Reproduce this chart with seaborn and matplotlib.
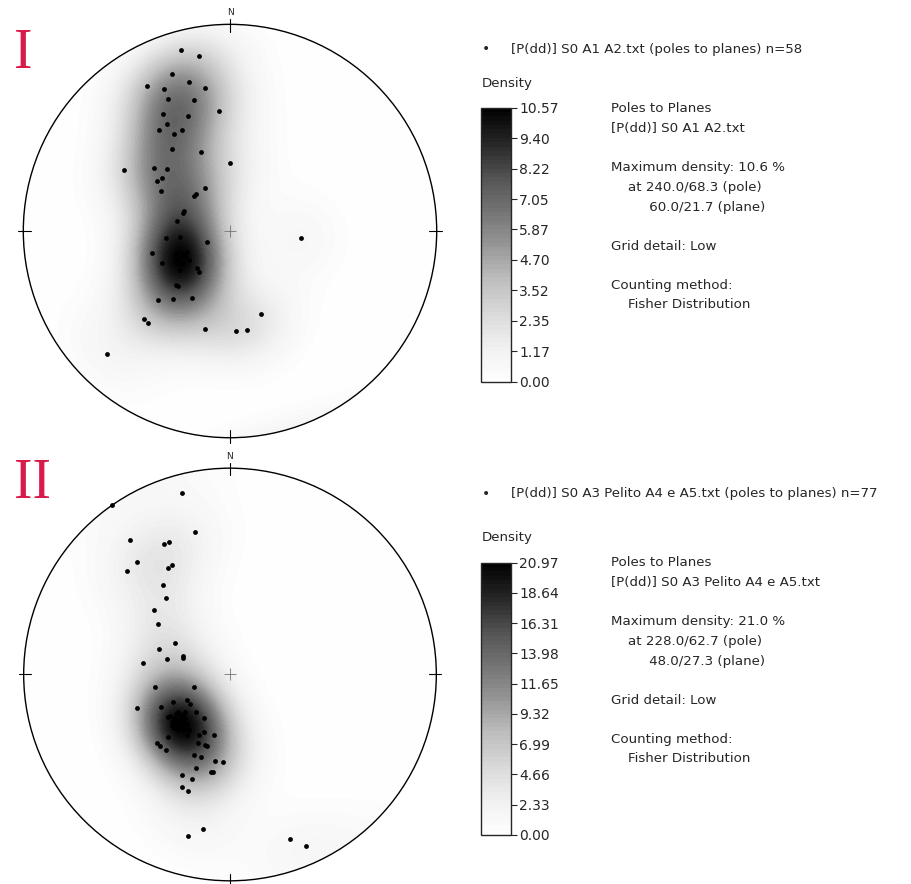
import numpy as np
import pandas as pd
import seaborn as sns
import matplotlib
matplotlib.use("Agg")
import matplotlib.pyplot as plt
from matplotlib.patches import Circle

set1_east = [-0.237, -0.149, -0.281, -0.403, -0.197, -0.122, -0.319, -0.300, -0.173, -0.052,
             -0.326, -0.205, -0.306, -0.342, -0.271, -0.234, -0.281, -0.140, 0.001, -0.514,
             -0.369, -0.305, -0.355, -0.330, -0.334, -0.122, -0.164, -0.174, -0.223, -0.227,
             -0.256, -0.111, -0.311, -0.242, -0.376, -0.329, -0.160, -0.150, -0.253, -0.261,
             -0.347, -0.274, -0.185, -0.418, -0.398, -0.122, 0.149, 0.028, 0.082, -0.595,
             0.345, -0.220, -0.250, -0.230, -0.210, -0.260, -0.240, -0.200]
set1_north = [0.876, 0.847, 0.761, 0.700, 0.721, 0.693, 0.686, 0.640, 0.634, 0.581,
              0.566, 0.556, 0.518, 0.489, 0.469, 0.489, 0.395, 0.384, 0.328, 0.295,
              0.303, 0.298, 0.243, 0.255, 0.194, 0.207, 0.178, 0.169, 0.097, 0.087,
              0.048, -0.053, -0.035, -0.030, -0.105, -0.156, -0.179, -0.198, -0.265, -0.261,
              -0.334, -0.329, -0.323, -0.426, -0.445, -0.473, -0.403, -0.482, -0.478, -0.595,
              -0.034, -0.120, -0.140, -0.160, -0.100, -0.110, -0.190, -0.140]

set2_east = [-0.234, -0.570, -0.170, -0.485, -0.320, -0.297, -0.451, -0.498, -0.299, -0.280,
             -0.323, -0.310, -0.368, -0.350, -0.265, -0.344, -0.307, -0.229, -0.226, -0.420,
             -0.362, -0.173, -0.452, -0.278, -0.333, -0.210, -0.194, -0.165, -0.125, -0.299,
             -0.125, -0.078, -0.149, -0.210, -0.299, -0.355, -0.339, -0.312, -0.154, -0.113,
             -0.121, -0.175, -0.142, -0.073, -0.035, -0.165, -0.094, -0.081, -0.231, -0.186,
             -0.234, -0.202, -0.132, -0.205, 0.292, 0.370,
             -0.250, -0.240, -0.260, -0.230, -0.270, -0.250, -0.220, -0.280, -0.240, -0.260,
             -0.230, -0.210, -0.270, -0.250, -0.220, -0.290, -0.240, -0.260, -0.200, -0.280,
             -0.230]
set2_north = [0.881, 0.820, 0.689, 0.652, 0.631, 0.642, 0.544, 0.503, 0.518, 0.529,
              0.434, 0.372, 0.313, 0.246, 0.154, 0.122, 0.075, 0.090, 0.081, 0.054,
              -0.062, -0.062, -0.162, -0.132, -0.158, -0.124, -0.143, -0.180, -0.212, -0.205,
              -0.277, -0.293, -0.293, -0.293, -0.304, -0.333, -0.345, -0.366, -0.331, -0.347,
              -0.342, -0.390, -0.398, -0.418, -0.423, -0.455, -0.474, -0.474, -0.487, -0.508,
              -0.544, -0.563, -0.749, -0.781, -0.797, -0.831,
              -0.220, -0.200, -0.240, -0.230, -0.210, -0.180, -0.210, -0.230, -0.250, -0.190,
              -0.260, -0.240, -0.260, -0.270, -0.180, -0.200, -0.220, -0.220, -0.270, -0.250,
              -0.190]

file_names = ["[P(dd)] S0 A1 A2.txt", "[P(dd)] S0 A3 Pelito A4 e A5.txt"]
panel_labels = ["I", "II"]
density_max = [10.57, 20.97]
max_summary = ["10.6", "21.0"]
max_pole = ["240.0/68.3", "228.0/62.7"]
max_plane = ["60.0/21.7", "48.0/27.3"]

sns.set_style("white")
plt.rcParams["font.family"] = ["DejaVu Sans"]

KAPPA = 25.0


def to_vectors(east, north):
    east = np.asarray(east, dtype=float)
    north = np.asarray(north, dtype=float)
    r = np.clip(np.hypot(east, north), 0, 1)
    theta = 2 * np.arcsin(r / np.sqrt(2))
    az = np.arctan2(east, north)
    return np.stack([np.sin(theta) * np.sin(az),
                     np.sin(theta) * np.cos(az),
                     -np.cos(theta)], axis=-1)


def fisher_density(east, north, gx, gy):
    pts = to_vectors(east, north)
    grid = to_vectors(gx.ravel(), gy.ravel())
    cosang = np.abs(grid @ pts.T)
    dens = KAPPA / len(pts) * np.exp(KAPPA * (cosang - 1)).sum(axis=1)
    return dens.reshape(gx.shape)


def draw_net(ax, cax, east, north, idx, leg_y, dens_y, text_y, label_y):
    dmax = density_max[idx]
    g = np.linspace(-1, 1, 241)
    gx, gy = np.meshgrid(g, g)
    dens = fisher_density(east, north, gx, gy)
    dens = dens * dmax / dens.max()
    dens[np.hypot(gx, gy) > 1.0] = 0

    circ = Circle((0, 0), 1, transform=ax.transData, facecolor="none")
    cf = ax.contourf(gx, gy, dens, levels=np.linspace(0, dmax, 64), cmap="Greys")
    cf.set_clip_path(circ)

    pts = pd.DataFrame({"east": east, "north": north})
    sns.scatterplot(data=pts, x="east", y="north", ax=ax, color="black", s=12,
                    linewidth=0, legend=False, zorder=5)

    ax.add_patch(Circle((0, 0), 1, fill=False, edgecolor="black", lw=1.0, zorder=6))
    ax.plot([0, 0], [0.965, 1.025], color="black", lw=0.8)
    ax.plot([0, 0], [-0.965, -1.025], color="black", lw=0.8)
    ax.plot([0.965, 1.025], [0, 0], color="black", lw=0.8)
    ax.plot([-0.965, -1.025], [0, 0], color="black", lw=0.8)
    ax.plot([0], [0], marker="+", ms=9, mew=0.6, color="0.45")
    ax.text(0, 1.055, "N", ha="center", va="center", fontsize=6.5, clip_on=False)
    ax.set_xlim(-1.06, 1.06)
    ax.set_ylim(-1.06, 1.06)
    ax.set_aspect("equal")
    ax.axis("off")

    cb = plt.colorbar(cf, cax=cax, ticks=np.linspace(0, dmax, 10))
    cb.ax.set_yticklabels(["%.2f" % v for v in np.linspace(0, dmax, 10)])
    cb.ax.tick_params(labelsize=10, length=4, width=0.8, pad=2)
    cb.outline.set_linewidth(1.0)

    fig.text(482 / 912, 1 - leg_y / 884, "\u2022", fontsize=10, ha="left", va="center")
    fig.text(511 / 912, 1 - leg_y / 884,
             "%s (poles to planes) n=%d" % (file_names[idx], len(east)),
             fontsize=9.6, ha="left", va="center")
    fig.text(482 / 912, 1 - dens_y / 884, "Density", fontsize=9.6,
             ha="left", va="center")

    lines = ["Poles to Planes", file_names[idx], "",
             "Maximum density: %s %%" % max_summary[idx],
             "    at %s (pole)" % max_pole[idx],
             "         %s (plane)" % max_plane[idx], "",
             "Grid detail: Low", "",
             "Counting method:", "    Fisher Distribution"]
    for i, line in enumerate(lines):
        fig.text(611 / 912, 1 - (text_y + i * 19.6) / 884, line, fontsize=9.6,
                 ha="left", va="center")

    fig.text(14 / 912, 1 - label_y / 884, panel_labels[idx], fontsize=40,
             family="Liberation Serif", color="#d81b4a", ha="left", va="center")


fig = plt.figure(figsize=(9.12, 8.84), dpi=100)
ax1 = fig.add_axes([0.01195, 0.4908, 0.4805, 0.4957])
ax2 = fig.add_axes([0.01239, -0.0104, 0.4796, 0.4948])
cax1 = fig.add_axes([481 / 912, 1 - 381.7 / 884, 30 / 912, 274 / 884])
cax2 = fig.add_axes([481 / 912, 1 - 835 / 884, 30 / 912, 272.3 / 884])

draw_net(ax1, cax1, set1_east, set1_north, 0, leg_y=49, dens_y=84, text_y=109, label_y=54)
draw_net(ax2, cax2, set2_east, set2_north, 1, leg_y=494, dens_y=538, text_y=563, label_y=484)

fig.savefig("out.png", dpi=100, facecolor="white")
